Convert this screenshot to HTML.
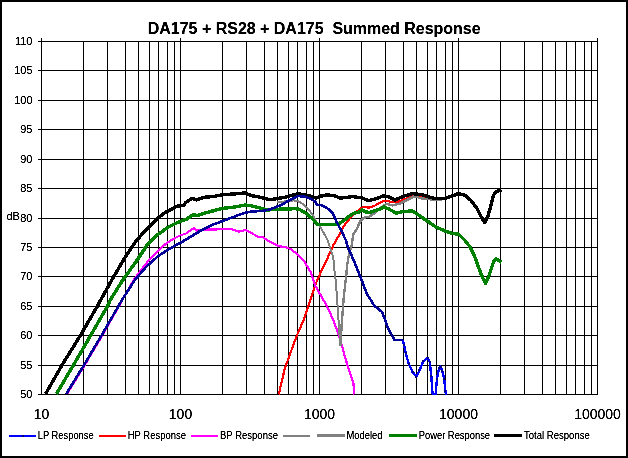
<!DOCTYPE html>
<html><head><meta charset="utf-8"><title>DA175 + RS28 + DA175 Summed Response</title>
<style>html,body{margin:0;padding:0;background:#fff;}svg{display:block;}text{font-family:"Liberation Sans",sans-serif;fill:#000;}</style></head><body>
<svg width="628" height="458" viewBox="0 0 628 458">
<rect x="0" y="0" width="628" height="458" fill="#fff"/>
<rect x="1" y="1" width="626" height="456" fill="none" stroke="#000" stroke-width="2" shape-rendering="crispEdges"/>
<g fill="#000" shape-rendering="crispEdges">
<rect x="38" y="41" width="560" height="1"/>
<rect x="38" y="70" width="560" height="1"/>
<rect x="38" y="100" width="560" height="1"/>
<rect x="38" y="129" width="560" height="1"/>
<rect x="38" y="159" width="560" height="1"/>
<rect x="38" y="188" width="560" height="1"/>
<rect x="38" y="218" width="560" height="1"/>
<rect x="38" y="247" width="560" height="1"/>
<rect x="38" y="276" width="560" height="1"/>
<rect x="38" y="306" width="560" height="1"/>
<rect x="38" y="335" width="560" height="1"/>
<rect x="38" y="365" width="560" height="1"/>
<rect x="38" y="394" width="560" height="1"/>
<rect x="41" y="38" width="1" height="357"/>
<rect x="83" y="41" width="1" height="354"/>
<rect x="107" y="41" width="1" height="354"/>
<rect x="125" y="41" width="1" height="354"/>
<rect x="138" y="41" width="1" height="354"/>
<rect x="149" y="41" width="1" height="354"/>
<rect x="158" y="41" width="1" height="354"/>
<rect x="167" y="41" width="1" height="354"/>
<rect x="174" y="41" width="1" height="354"/>
<rect x="180" y="38" width="1" height="357"/>
<rect x="222" y="41" width="1" height="354"/>
<rect x="246" y="41" width="1" height="354"/>
<rect x="264" y="41" width="1" height="354"/>
<rect x="277" y="41" width="1" height="354"/>
<rect x="288" y="41" width="1" height="354"/>
<rect x="297" y="41" width="1" height="354"/>
<rect x="306" y="41" width="1" height="354"/>
<rect x="313" y="41" width="1" height="354"/>
<rect x="319" y="38" width="1" height="357"/>
<rect x="361" y="41" width="1" height="354"/>
<rect x="385" y="41" width="1" height="354"/>
<rect x="403" y="41" width="1" height="354"/>
<rect x="416" y="41" width="1" height="354"/>
<rect x="427" y="41" width="1" height="354"/>
<rect x="436" y="41" width="1" height="354"/>
<rect x="445" y="41" width="1" height="354"/>
<rect x="452" y="41" width="1" height="354"/>
<rect x="458" y="38" width="1" height="357"/>
<rect x="500" y="41" width="1" height="354"/>
<rect x="524" y="41" width="1" height="354"/>
<rect x="542" y="41" width="1" height="354"/>
<rect x="555" y="41" width="1" height="354"/>
<rect x="566" y="41" width="1" height="354"/>
<rect x="575" y="41" width="1" height="354"/>
<rect x="584" y="41" width="1" height="354"/>
<rect x="591" y="41" width="1" height="354"/>
<rect x="597" y="38" width="1" height="357"/>
</g>
<clipPath id="c"><rect x="41" y="41" width="557" height="354"/></clipPath>
<g clip-path="url(#c)" fill="none" stroke-linejoin="round" stroke-linecap="butt" shape-rendering="crispEdges">
<path d="M278.7,394.5 L284.8,368.5 L290.9,351.7 L297.1,334.9 L303.2,321.1 L309.3,302.8 L315.4,284.5 L321.5,270.7 L327.9,257.3 L333.3,245.3 L336.7,239.2 L340.5,233.0 L343.4,226.7 L346.7,222.0 L350.6,217.7 L353.4,214.3 L358.2,210.5 L362.0,207.6 L364.4,206.7 L367.8,207.6 L371.6,207.2 L375.4,205.3 L380.0,202.9 L384.0,200.6 L390.6,201.7 L397.1,202.3 L403.7,199.5 L412.4,195.8 L419.0,196.2 L423.3,197.3 L429.9,198.5" stroke="#ff0000" stroke-width="2.2"/>
<path d="M67.0,394.0 L84.5,365.5 L102.3,335.4 L118.8,306.5 L122.4,300.0 L133.7,280.0 L144.6,265.2 L155.5,253.1 L166.4,243.3 L175.2,237.9 L180.0,235.5 L186.6,233.3 L192.0,228.9 L194.2,228.5 L196.4,230.7 L206.2,229.4 L217.1,229.4 L230.2,228.9 L238.9,231.6 L245.5,230.0 L252.0,233.3 L258.6,237.2 L261.9,236.6 L267.3,240.3 L276.0,244.9 L280.4,246.4 L285.3,246.9 L291.8,249.7 L298.4,255.2 L303.8,260.6 L310.8,272.2 L315.4,286.0 L321.5,296.7 L327.6,307.4 L333.7,321.1 L339.8,338.0 L344.4,354.8 L348.9,370.1 L353.5,383.8 L354.1,394.5" stroke="#ff00ff" stroke-width="2.2"/>
<path d="M277.2,201.6 L282.0,201.8 L294.0,200.4 L298.8,201.6 L303.6,204.6 L308.4,209.4 L313.2,215.4 L315.6,220.8 L320.0,226.7 L323.8,233.0 L327.2,239.2 L330.0,247.5 L333.3,257.3 L334.4,270.0 L335.8,281.4 L337.6,305.9 L339.2,330.3 L340.4,346.2" stroke="#808080" stroke-width="2"/>
<path d="M340.4,346.2 L341.9,321.1 L343.8,296.7 L345.9,278.3 L346.3,274.9 L347.2,264.8 L349.0,254.3 L351.6,245.6 L353.3,234.2 L356.8,229.0 L360.3,221.2 L363.8,217.7 L369.0,216.8 L374.2,213.3 L379.5,208.5 L386.2,203.8 L392.8,205.4 L399.3,203.8 L405.9,200.6 L414.6,196.2 L421.1,198.4 L427.7,199.0 L436.4,200.1 L445.2,198.8 L452.8,195.8 L458.3,193.6" stroke="#808080" stroke-width="2.4"/>
<path d="M56.4,394.0 L73.2,365.5 L90.7,335.4 L107.2,306.5 L110.3,300.0 L122.8,280.0 L135.9,261.9 L146.8,245.5 L157.7,234.6 L168.6,226.9 L177.3,222.6 L186.6,219.1 L193.1,214.8 L197.5,215.4 L206.2,212.6 L214.9,210.4 L223.7,208.2 L234.6,207.1 L245.5,204.9 L252.0,206.0 L260.8,208.2 L267.3,210.0 L270.0,209.8 L277.2,209.4 L283.2,208.8 L288.0,209.2 L294.0,208.6 L298.8,209.2 L304.8,212.4 L310.8,217.2 L314.4,220.8 L316.8,224.4 L320.0,224.6 L329.6,224.6 L337.2,224.6 L341.0,222.4 L345.8,219.1 L349.6,215.8 L353.4,213.4 L358.2,212.4 L362.0,210.0 L365.8,211.9 L369.7,212.4 L374.4,211.0 L380.0,209.1 L384.0,207.1 L389.5,209.3 L396.0,213.2 L402.6,211.5 L412.4,211.0 L419.0,215.4 L427.7,221.3 L436.4,227.2 L445.2,231.1 L453.9,233.8 L458.4,233.9 L464.1,239.5 L469.8,246.6 L474.1,255.2 L478.3,266.5 L482.6,277.9 L485.4,283.5 L488.2,277.9 L491.1,269.3 L493.9,260.8 L496.2,258.8 L501.5,262.5" stroke="#008000" stroke-width="3.4"/>
<path d="M45.5,394.0 L46.5,392.3 L61.8,365.5 L80.4,335.4 L97.2,306.5 L100.7,300.0 L111.8,280.0 L124.9,257.5 L135.9,241.1 L146.8,229.1 L157.7,218.2 L166.4,211.7 L177.3,206.2 L183.9,205.1 L185.5,202.8 L192.0,198.4 L196.4,199.9 L204.0,197.3 L212.8,196.6 L223.7,194.5 L234.6,194.0 L244.4,192.9 L252.0,195.8 L260.8,197.3 L270.0,199.8 L277.2,198.6 L284.4,197.4 L291.6,195.4 L297.6,193.8 L304.8,194.6 L310.8,196.2 L316.2,198.2 L320.4,196.2 L326.4,195.0 L333.6,195.4 L340.0,198.0 L342.0,197.9 L353.0,196.6 L361.7,197.9 L368.7,200.6 L377.5,198.4 L382.9,195.8 L388.4,196.6 L394.9,200.1 L402.6,196.6 L412.4,193.6 L421.1,194.5 L429.9,197.3 L436.4,198.8 L445.2,198.4 L451.7,196.2 L458.4,193.6 L465.5,195.5 L471.2,200.7 L476.9,208.3 L481.1,216.8 L484.6,222.5 L487.7,216.8 L490.5,206.9 L493.3,195.5 L496.2,191.3 L501.5,190.4" stroke="#000" stroke-width="3.4"/>
<path d="M66.2,394.0 L83.7,365.5 L101.6,335.4 L118.2,306.5 L121.9,300.0 L134.8,280.0 L146.8,266.2 L157.7,256.4 L168.6,249.4 L177.3,244.4 L180.0,243.1 L190.9,236.6 L201.8,230.0 L212.8,224.6 L223.7,220.7 L234.6,216.5 L245.5,212.6 L252.0,211.5 L263.0,210.8 L270.0,209.4 L276.0,207.0 L282.0,204.6 L288.0,201.0 L294.0,198.0 L298.2,196.0 L304.8,196.8 L310.8,198.6 L315.0,201.6 L317.4,205.0 L320.0,204.8 L323.8,206.2 L328.6,209.1 L332.4,212.9 L334.8,217.2 L336.7,222.0 L339.1,226.7 L342.0,231.5 L344.8,238.2 L345.8,240.0 L347.5,246.4 L351.9,256.2 L355.2,263.9 L357.8,270.7 L362.2,281.4 L366.8,293.6 L374.4,305.9 L382.1,312.0 L385.1,319.6 L388.2,328.8 L394.3,339.5 L395.0,339.9 L402.6,339.9" stroke="#000099" stroke-width="2.6"/>
<path d="M402.6,339.9 L404.2,345.3 L405.7,352.9 L408.7,363.6 L412.6,372.0 L416.4,376.6 L419.4,370.5 L423.2,361.3 L427.8,357.8 L429.8,362.1 L431.3,375.8 L432.4,392.6 L433.2,395.0 L435.5,395.0 L437.0,378.9 L439.0,368.2 L440.8,366.6 L442.3,371.2 L444.2,378.9 L445.4,391.1 L446.1,395.0" stroke="#0000ff" stroke-width="2.4"/>
<rect x="403" y="344" width="2" height="2" fill="#000080" stroke="none"/>
<rect x="405" y="352" width="2" height="2" fill="#000080" stroke="none"/>
<rect x="408" y="363" width="2" height="2" fill="#000080" stroke="none"/>
<rect x="412" y="371" width="2" height="2" fill="#000080" stroke="none"/>
<rect x="415" y="376" width="2" height="2" fill="#000080" stroke="none"/>
<rect x="418" y="369" width="2" height="2" fill="#000080" stroke="none"/>
<rect x="422" y="360" width="2" height="2" fill="#000080" stroke="none"/>
<rect x="427" y="357" width="2" height="2" fill="#000080" stroke="none"/>
<rect x="429" y="361" width="2" height="2" fill="#000080" stroke="none"/>
<rect x="430" y="375" width="2" height="2" fill="#000080" stroke="none"/>
<rect x="436" y="378" width="2" height="2" fill="#000080" stroke="none"/>
<rect x="438" y="367" width="2" height="2" fill="#000080" stroke="none"/>
<rect x="440" y="366" width="2" height="2" fill="#000080" stroke="none"/>
<rect x="441" y="370" width="2" height="2" fill="#000080" stroke="none"/>
<rect x="443" y="378" width="2" height="2" fill="#000080" stroke="none"/>
<rect x="444" y="390" width="2" height="2" fill="#000080" stroke="none"/>
</g>
<filter id="t" x="0" y="0" width="100%" height="100%" filterUnits="userSpaceOnUse"><feComponentTransfer><feFuncA type="linear" slope="1.9" intercept="-0.22"/></feComponentTransfer></filter>
<g filter="url(#t)">
<text x="147.8" y="34" font-size="16" font-weight="bold" textLength="332.8" lengthAdjust="spacingAndGlyphs" xml:space="preserve" style="white-space:pre">DA175 + RS28 + DA175  Summed Response</text>
<text x="32.5" y="45.3" font-size="11" text-anchor="end">110</text>
<text x="32.5" y="74.3" font-size="11" text-anchor="end">105</text>
<text x="32.5" y="104.3" font-size="11" text-anchor="end">100</text>
<text x="32.5" y="133.3" font-size="11" text-anchor="end">95</text>
<text x="32.5" y="163.3" font-size="11" text-anchor="end">90</text>
<text x="32.5" y="192.3" font-size="11" text-anchor="end">85</text>
<text x="32.5" y="222.3" font-size="11" text-anchor="end">80</text>
<text x="32.5" y="251.3" font-size="11" text-anchor="end">75</text>
<text x="32.5" y="280.3" font-size="11" text-anchor="end">70</text>
<text x="32.5" y="310.3" font-size="11" text-anchor="end">65</text>
<text x="32.5" y="339.3" font-size="11" text-anchor="end">60</text>
<text x="32.5" y="369.3" font-size="11" text-anchor="end">55</text>
<text x="32.5" y="398.3" font-size="11" text-anchor="end">50</text>
<text x="6.5" y="220" font-size="11">dB</text>
<text x="41.5" y="419" font-size="14" text-anchor="middle">10</text>
<text x="180.5" y="419" font-size="14" text-anchor="middle">100</text>
<text x="319.5" y="419" font-size="14" text-anchor="middle">1000</text>
<text x="458.5" y="419" font-size="14" text-anchor="middle">10000</text>
<text x="597.5" y="419" font-size="14" text-anchor="middle">100000</text>
<rect x="9" y="435" width="27" height="2" fill="#0000ff" shape-rendering="crispEdges"/>
<text x="37.7" y="439" font-size="10" textLength="56" lengthAdjust="spacingAndGlyphs">LP Response</text>
<rect x="22" y="435" width="2" height="2" fill="#000080" shape-rendering="crispEdges"/>
<rect x="99" y="435" width="27" height="2" fill="#ff0000" shape-rendering="crispEdges"/>
<text x="127.7" y="439" font-size="10" textLength="58.3" lengthAdjust="spacingAndGlyphs">HP Response</text>
<rect x="191" y="435" width="27" height="2" fill="#ff00ff" shape-rendering="crispEdges"/>
<text x="220" y="439" font-size="10" textLength="58" lengthAdjust="spacingAndGlyphs">BP Response</text>
<rect x="283" y="435" width="27" height="2" fill="#808080" shape-rendering="crispEdges"/>
<rect x="317" y="434" width="28" height="3" fill="#808080" shape-rendering="crispEdges"/>
<text x="346.5" y="439" font-size="10" textLength="36" lengthAdjust="spacingAndGlyphs">Modeled</text>
<rect x="389" y="434" width="28" height="3" fill="#008000" shape-rendering="crispEdges"/>
<text x="418.7" y="439" font-size="10" textLength="71.4" lengthAdjust="spacingAndGlyphs">Power Response</text>
<rect x="494" y="434" width="28" height="3" fill="#000" shape-rendering="crispEdges"/>
<text x="524" y="439" font-size="10" textLength="65.8" lengthAdjust="spacingAndGlyphs">Total Response</text>
</g>
</svg></body></html>
